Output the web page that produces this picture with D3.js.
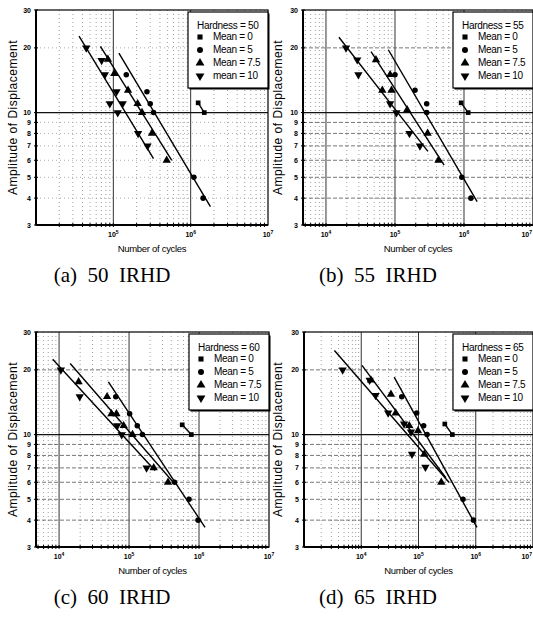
<!DOCTYPE html>
<html>
<head>
<meta charset="utf-8">
<script src="https://cdn.jsdelivr.net/npm/d3@7"></script>
<style>
  body { margin: 0; background: #fff; }
  text { font-family: "Liberation Sans", Arial, sans-serif; }
</style>
</head>
<body>
<div id="chart"></div>
<script>
// tick values and labels
var yTicks = [3, 4, 5, 6, 7, 8, 9, 10, 20, 30];
var hardness = [50, 55, 60, 65];
var captions = ["(a)  50  IRHD", "(b)  55  IRHD", "(c)  60  IRHD", "(d)  65  IRHD"];
var meanLabels = ["Mean = 0", "Mean = 5", "Mean = 7.5", "Mean = 10"];

// (a) 50 IRHD  -- [cycles, amplitude]
var a_m0  = [[1.25e6, 11.1], [1.5e6, 10]];
var a_m5  = [[147000, 15], [272000, 12.5], [300000, 11], [331000, 10], [1.1e6, 5], [1.45e6, 4]];
var a_m75 = [[85000, 17.7], [103000, 15.2], [155000, 12.7], [206000, 11], [235000, 10], [316000, 8], [490000, 6]];
var a_m10 = [[44700, 20], [70500, 17.5], [77700, 15], [110000, 12.5], [90000, 11], [132000, 11], [114000, 10], [209000, 8], [277000, 7]];
var a_fits = [[36000, 22.7, 331000, 6.1], [68000, 20.3, 570000, 6.0], [118000, 18.9, 1.8e6, 3.65], [1.25e6, 11.1, 1.5e6, 10]];

// (b) 55 IRHD
var b_m0  = [[910000, 11.1], [1.15e6, 10]];
var b_m5  = [[100000, 15], [195000, 12.7], [288000, 11], [288000, 10], [930000, 5], [1.26e6, 4]];
var b_m75 = [[53000, 17.6], [65500, 12.7], [85000, 15], [89000, 12.7], [150000, 10.3], [297000, 8], [427000, 6]];
var b_m10 = [[19500, 20], [28400, 17.6], [29500, 15], [85000, 11], [105000, 10], [162000, 8], [230000, 7]];
var b_fits = [[15400, 22.4, 300000, 6.6], [45000, 19.2, 515000, 5.7], [80000, 19.6, 1.55e6, 3.85], [910000, 11.1, 1.15e6, 10]];

// (c) 60 IRHD
var c_m0  = [[575000, 11.1], [776000, 10]];
var c_m5  = [[64600, 15], [102000, 12.5], [131000, 11], [155000, 10], [447000, 6], [720000, 5], [970000, 4]];
var c_m75 = [[19000, 17.6], [48500, 15], [56000, 12.5], [66000, 12.5], [83700, 11], [112000, 10], [225000, 7], [360000, 6]];
var c_m10 = [[10600, 20], [19700, 15], [67600, 11], [78500, 10], [178000, 7]];
var c_fits = [[8100, 22.4, 235000, 6.8], [14400, 21.4, 428000, 6.0], [50600, 17.6, 1.22e6, 3.7], [575000, 11.1, 776000, 10]];

// (d) 65 IRHD
var d_m0  = [[288000, 11.2], [390000, 10]];
var d_m5  = [[51000, 15], [93000, 12.6], [123000, 11], [141000, 10], [600000, 5], [910000, 4]];
var d_m75 = [[14800, 17.9], [33000, 15.4], [40000, 12.6], [69000, 11], [98000, 10.4], [126000, 8.1], [250000, 6]];
var d_m10 = [[4730, 20], [14000, 17.9], [17800, 15.2], [29500, 12.6], [56000, 11.2], [74000, 10.3], [77000, 8.1], [132000, 7.05]];
var d_fits = [[3400, 24.6, 340000, 6.0], [10300, 21, 300000, 6.3], [37600, 18.5, 1.05e6, 3.7], [288000, 11.2, 390000, 10]];

var W = 533, H = 617;

var svg = d3.select("#chart")
  .append("svg")
    .attr("width", W)
    .attr("height", H);

// panel layout
var panels = [
  {left: 36,  top: 10,  w: 232, h: 215, xmin: 1e4,            fits: a_fits, series: [a_m0, a_m5, a_m75, a_m10], last: "mean = 10", capX: 112, ylabX: 13},
  {left: 303, top: 10,  w: 230, h: 215, xmin: Math.pow(10, 3.667), fits: b_fits, series: [b_m0, b_m5, b_m75, b_m10], last: "Mean = 10", capX: 378, ylabX: 278},
  {left: 36,  top: 332, w: 233, h: 215, xmin: Math.pow(10, 3.67),  fits: c_fits, series: [c_m0, c_m5, c_m75, c_m10], last: "Mean = 10", capX: 112, ylabX: 13},
  {left: 304, top: 332, w: 229, h: 215, xmin: 1e3,            fits: d_fits, series: [d_m0, d_m5, d_m75, d_m10], last: "Mean = 10", capX: 378, ylabX: 278}
];

var symbols = [
  {type: d3.symbolSquare, size: 22, rot: 0},
  {type: d3.symbolCircle, size: 24, rot: 0},
  {type: d3.symbolTriangle, size: 30, rot: 0},
  {type: d3.symbolTriangle, size: 30, rot: 180}
];

panels.forEach(function(p, i) {
  var g = svg.append("g")
    .attr("transform", "translate(" + p.left + "," + p.top + ")");

  var x = d3.scaleLog().domain([p.xmin, 1e7]).range([0, p.w]);
  var y = d3.scaleLog().domain([3, 30]).range([p.h, 0]);

  // minor / major vertical grid
  var minorX = [], majorX = [];
  for (var e = 3; e < 7; e++) {
    for (var k = 1; k < 10; k++) {
      var v = k * Math.pow(10, e);
      if (v <= p.xmin * 1.001 || v >= 1e7) continue;
      if (k == 1) majorX.push(v); else minorX.push(v);
    }
  }
  g.selectAll(".gx").data(minorX).enter().append("line")
    .attr("x1", d => x(d)).attr("x2", d => x(d))
    .attr("y1", 0).attr("y2", p.h)
    .attr("stroke", "#888").attr("stroke-width", 0.8)
    .attr("stroke-dasharray", "1,3");
  g.selectAll(".gX").data(majorX).enter().append("line")
    .attr("x1", d => x(d)).attr("x2", d => x(d))
    .attr("y1", 0).attr("y2", p.h)
    .attr("stroke", "#333").attr("stroke-width", 1);

  // horizontal grid
  var minorY = [4, 5, 6, 7, 8, 9, 20];
  g.selectAll(".gy").data(minorY).enter().append("line")
    .attr("x1", 0).attr("x2", p.w)
    .attr("y1", d => y(d)).attr("y2", d => y(d))
    .attr("stroke", i == 0 ? "#999" : "#555").attr("stroke-width", 0.8)
    .attr("stroke-dasharray", i == 0 ? "1,3" : "4,2");
  g.append("line")
    .attr("x1", 0).attr("x2", p.w)
    .attr("y1", y(10)).attr("y2", y(10))
    .attr("stroke", "#111").attr("stroke-width", 1.1);

  // frame
  g.append("rect")
    .attr("width", p.w).attr("height", p.h)
    .attr("fill", "none").attr("stroke", "#000").attr("stroke-width", 1.2);
  g.append("line").attr("x1", 0).attr("x2", 0).attr("y1", 0).attr("y2", p.h)
    .attr("stroke", "#000").attr("stroke-width", 2);
  g.append("line").attr("x1", 0).attr("x2", p.w).attr("y1", p.h).attr("y2", p.h)
    .attr("stroke", "#000").attr("stroke-width", 2);

  // small tick marks on the axes
  g.selectAll(".tx").data(minorX.concat(majorX)).enter().append("line")
    .attr("x1", d => x(d)).attr("x2", d => x(d))
    .attr("y1", p.h - 2).attr("y2", p.h + 2)
    .attr("stroke", "#000").attr("stroke-width", 1);
  g.selectAll(".ty").data(yTicks).enter().append("line")
    .attr("x1", -2).attr("x2", 2)
    .attr("y1", d => y(d)).attr("y2", d => y(d))
    .attr("stroke", "#000").attr("stroke-width", 1);

  // y tick labels
  g.selectAll(".yl").data(yTicks).enter().append("text")
    .attr("x", -5).attr("y", d => y(d) + 2.5)
    .attr("text-anchor", "end")
    .style("font-size", "7px").style("font-weight", "bold")
    .text(d => d);

  // x tick labels (the last one is pulled inside when it meets the page edge)
  var edge = p.left + p.w >= W - 1;
  var xl = g.selectAll(".xl").data(majorX.concat([1e7])).enter().append("text")
    .attr("x", d => (edge && d == 1e7) ? x(d) - 1 : x(d)).attr("y", p.h + 12)
    .attr("text-anchor", d => (edge && d == 1e7) ? "end" : "middle")
    .style("font-size", "7px").style("font-weight", "bold");
  xl.append("tspan").text("10");
  xl.append("tspan").attr("dy", -3).style("font-size", "5px")
    .text(d => Math.round(Math.log10(d)));

  // fitted lines
  g.selectAll(".fit").data(p.fits).enter().append("line")
    .attr("x1", d => x(d[0])).attr("y1", d => y(d[1]))
    .attr("x2", d => x(d[2])).attr("y2", d => y(d[3]))
    .attr("stroke", "#000").attr("stroke-width", 1.4);

  // data points
  p.series.forEach(function(s, j) {
    var sym = symbols[j];
    g.selectAll(".pt" + j).data(s).enter().append("path")
      .attr("d", d3.symbol().type(sym.type).size(sym.size))
      .attr("transform", d => "translate(" + x(d[0]) + "," + y(d[1]) + ") rotate(" + sym.rot + ")")
      .attr("fill", "#000");
  });

  // legend
  var lg = g.append("g").attr("transform", "translate(" + (p.w - 80) + ",2)");
  lg.append("rect").attr("x", 1.5).attr("y", 1.5).attr("width", 80).attr("height", 76)
    .attr("fill", "#000");
  lg.append("rect").attr("width", 80).attr("height", 76)
    .attr("fill", "#fff").attr("stroke", "#000").attr("stroke-width", 1.2);
  lg.append("text").attr("x", 9).attr("y", 17)
    .style("font-size", "10px").style("letter-spacing", "-0.3px")
    .text("Hardness = " + hardness[i]);
  var labels = meanLabels.slice(0, 3).concat([p.last]);
  labels.forEach(function(t, j) {
    var sym = symbols[j];
    var yy = 28 + j * 13;
    lg.append("path")
      .attr("d", d3.symbol().type(sym.type).size(sym.size + 4))
      .attr("transform", "translate(12," + (yy - 3) + ") rotate(" + sym.rot + ")")
      .attr("fill", "#000");
    lg.append("text").attr("x", 25).attr("y", yy)
      .style("font-size", "10px").style("letter-spacing", "-0.3px")
      .text(t);
  });

  // axis titles
  g.append("text")
    .attr("x", p.w / 2).attr("y", p.h + 27)
    .attr("text-anchor", "middle")
    .style("font-size", "9.5px").style("letter-spacing", "-0.3px")
    .text("Number of cycles");
  svg.append("text")
    .attr("transform", "translate(" + p.ylabX + "," + (p.top + p.h / 2) + ") rotate(-90)")
    .attr("text-anchor", "middle")
    .attr("dy", "0.35em")
    .style("font-size", "12px").style("letter-spacing", "0.5px")
    .text("Amplitude of Displacement");

  // caption
  svg.append("text")
    .attr("x", p.capX).attr("y", p.top + p.h + 57)
    .attr("text-anchor", "middle")
    .style("font-family", "'Liberation Serif', 'Times New Roman', serif")
    .style("font-size", "21px")
    .style("white-space", "pre")
    .attr("xml:space", "preserve")
    .text(captions[i]);
});
</script>
</body>
</html>
